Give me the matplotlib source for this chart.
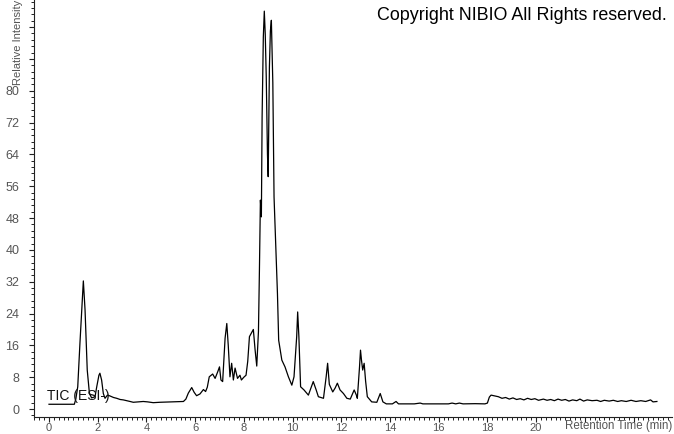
import matplotlib
matplotlib.use("Agg")
import matplotlib.pyplot as plt
from matplotlib.ticker import MultipleLocator

plt.rcParams["font.family"] = ["Liberation Sans", "DejaVu Sans"]

# retention time (min) and relative intensity
rt = [
    0.00, 1.04, 1.10, 1.18, 1.27, 1.36, 1.41, 1.48, 1.57, 1.66, 1.75, 1.89,
    1.96, 2.05, 2.09, 2.16, 2.23, 2.30, 2.40, 2.50, 2.65, 2.78, 2.92, 3.05,
    3.20, 3.33, 3.46, 3.65, 3.87, 4.05, 4.28, 4.55, 4.83, 5.20, 5.52, 5.62,
    5.72, 5.86, 5.96, 6.06, 6.20, 6.34, 6.43, 6.50, 6.58, 6.72, 6.82, 6.93,
    7.00, 7.06, 7.13, 7.23, 7.30, 7.36, 7.43, 7.50, 7.57, 7.64, 7.74, 7.84,
    7.90, 8.00, 8.09, 8.16, 8.23, 8.39, 8.46, 8.53, 8.60, 8.64, 8.68, 8.72,
    8.75, 8.80, 8.84, 8.88, 8.92, 8.97, 9.00, 9.05, 9.09, 9.13, 9.19, 9.24,
    9.31, 9.38, 9.43, 9.56, 9.69, 9.83, 9.97, 10.06, 10.17, 10.21, 10.26,
    10.33, 10.47, 10.65, 10.77, 10.85, 10.97, 11.06, 11.27, 11.38, 11.44,
    11.51, 11.65, 11.75, 11.84, 11.95, 12.09, 12.23, 12.37, 12.53, 12.62,
    12.66, 12.75, 12.79, 12.83, 12.88, 12.94, 13.00, 13.07, 13.25, 13.46,
    13.60, 13.71, 13.85, 14.10, 14.25, 14.35, 15.00, 15.24, 15.35, 16.40,
    16.55, 16.70, 16.85, 17.00, 17.50, 17.90, 18.00, 18.08, 18.15, 18.30,
    18.45, 18.60, 18.75, 18.90, 19.05, 19.20, 19.35, 19.50, 19.65, 19.80,
    19.95, 20.10, 20.30, 20.45, 20.60, 20.75, 20.90, 21.05, 21.20, 21.35,
    21.50, 21.67, 21.80, 21.95, 22.10, 22.30, 22.50, 22.65, 22.80, 23.00,
    23.17, 23.35, 23.50, 23.70, 23.90, 24.10, 24.30, 24.50, 24.70, 24.80,
    24.96,
]
intensity = [
    1.2, 1.2, 2.5, 5.6, 16.5, 26.5, 32.2, 24.9, 9.8, 3.9, 2.8, 3.1,
    5.6, 8.5, 9.0, 7.3, 3.9, 2.7, 3.5, 3.3, 2.9, 2.7, 2.4, 2.3,
    2.1, 1.9, 1.7, 1.8, 1.9, 1.8, 1.6, 1.7, 1.75, 1.8, 1.9, 2.5,
    4.0, 5.4, 4.2, 3.35, 3.8, 4.9, 4.4, 5.5, 8.1, 8.8, 7.7, 9.4,
    10.6, 7.3, 6.9, 17.8, 21.5, 16.0, 8.1, 11.5, 7.3, 10.3, 7.7, 8.5,
    7.3, 8.0, 8.5, 12.0, 18.2, 20.0, 15.0, 10.8, 19.5, 35.0, 52.5, 48.3,
    73.4, 93.5, 100.0, 94.0, 83.5, 64.0, 58.4, 86.0, 95.0, 97.7, 82.0, 53.3,
    40.8, 29.0, 17.3, 12.3, 10.6, 8.1, 6.0, 8.1, 18.2, 24.4, 18.2,
    5.6, 4.8, 3.5, 5.5, 6.9, 4.8, 3.1, 2.7, 8.1, 11.5,
    6.2, 4.3, 5.3, 6.5, 4.8, 3.9, 2.7, 2.5, 4.8, 3.5,
    2.7, 10.6, 14.8, 12.3, 9.8, 11.5, 7.0, 3.1, 1.8, 1.7,
    3.9, 1.8, 1.3, 1.3, 1.9, 1.3, 1.3, 1.5, 1.3, 1.3,
    1.5, 1.3, 1.5, 1.3, 1.35, 1.3, 1.5, 3.0, 3.5, 3.3,
    3.1, 2.7, 2.9, 2.5, 2.8, 2.4, 2.6, 2.3, 2.7, 2.4,
    2.6, 2.2, 2.5, 2.2, 2.4, 2.1, 2.5, 2.2, 2.4, 2.0,
    2.3, 2.1, 2.5, 2.0, 2.3, 2.1, 2.2, 1.9, 2.2, 2.0,
    2.2, 1.9, 2.1, 1.9, 2.2, 1.9, 2.1, 1.9, 2.3, 1.8,
    1.9,
]

x_ticks = [0, 2, 4, 6, 8, 10, 12, 14, 16, 18, 20, 22, 24]
x_labels = ["0", "2", "4", "6", "8", "10", "12", "14", "16", "18", "20", "", ""]
y_ticks = [0, 8, 16, 24, 32, 40, 48, 56, 64, 72, 80, 88, 96]
y_labels = ["0", "8", "16", "24", "32", "40", "48", "56", "64", "72", "80", "", ""]

fig = plt.figure(figsize=(6.74, 4.34), dpi=100)
ax = fig.add_axes([34 / 674, 17 / 434, 638 / 674, 417 / 434])

ax.plot(rt, intensity, color="black", linewidth=0.9)

ax.set_xlim(-0.616, 25.58)
ax.set_ylim(-2.0, 102.8)

ax.spines["top"].set_visible(False)
ax.spines["right"].set_visible(False)
for s in ["left", "bottom"]:
    ax.spines[s].set_color("#222222")
    ax.spines[s].set_linewidth(0.8)

ax.set_xticks(x_ticks)
ax.set_xticklabels(x_labels)
ax.set_yticks(y_ticks)
ax.set_yticklabels(y_labels)
ax.xaxis.set_minor_locator(MultipleLocator(0.2))
ax.yaxis.set_minor_locator(MultipleLocator(1.6))
ax.tick_params(which="major", length=3.5, width=0.8, color="#222222",
               labelsize=8, labelcolor="#555555")
ax.tick_params(which="minor", length=2.2, width=0.7, color="#222222")
ax.tick_params(axis="x", pad=0.5)
ax.tick_params(axis="y", pad=7, labelsize=9)

fig.text(0.997, 8 / 434, "Retention Time (min)", ha="right", va="center",
         fontsize=8.3, color="#555555")
fig.text(18 / 674, 1.0, "Relative Intensity", rotation=90, ha="center", va="top",
         fontsize=8, color="#555555")
fig.text(377 / 674, 1 - 15 / 434, "Copyright NIBIO All Rights reserved.",
         ha="left", va="center", fontsize=12.9, color="black")
ax.text(-0.1, 1.4, "TIC (ESI-)", ha="left", va="bottom", fontsize=10,
        color="#111111")

fig.savefig("out.png", dpi=100)
